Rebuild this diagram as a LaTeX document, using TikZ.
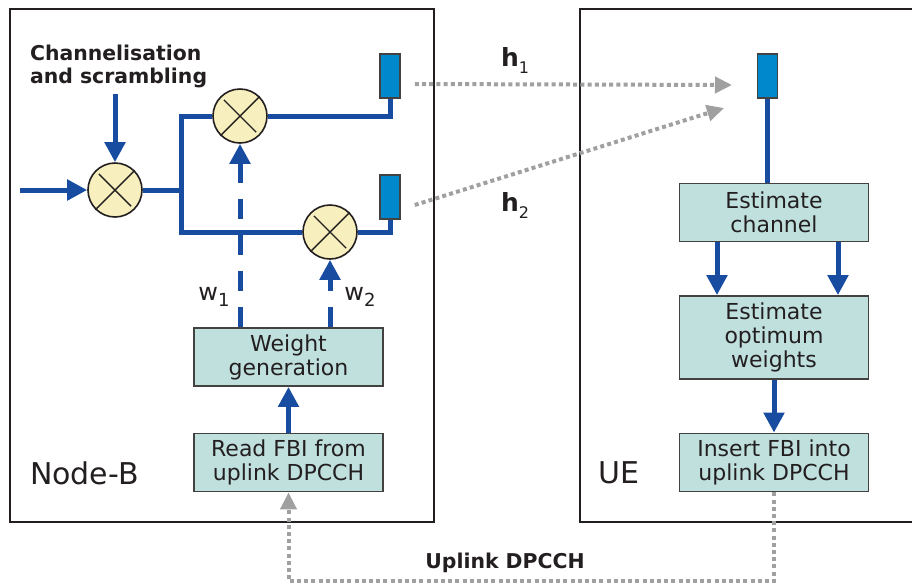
\documentclass[tikz,border=0pt]{standalone}
\usepackage{fontspec}
\setmainfont{DejaVu Sans}
\usetikzlibrary{arrows.meta, positioning, calc}
\definecolor{LinkBlue}{RGB}{24,76,160}
\definecolor{AntennaBlue}{RGB}{0,136,204}
\definecolor{MixerYellow}{RGB}{247,240,190}
\definecolor{BlockTeal}{RGB}{192,224,222}
\definecolor{RadioGrey}{RGB}{160,160,160}
\definecolor{InkGrey}{RGB}{35,31,32}

\begin{document}
\begin{tikzpicture}[
    x=0.5pt, y=-0.5pt,
    text=InkGrey,
    block/.style={draw=InkGrey!85, line width=0.9pt, fill=BlockTeal, minimum width=94.5pt,
        minimum height=29pt, inner sep=1pt, align=center, font=\fontsize{11}{12}\selectfont},
    mixer/.style={circle, draw=InkGrey, line width=0.8pt, fill=MixerYellow, minimum size=27pt, inner sep=0pt},
    antenna/.style={draw=InkGrey!85, line width=0.8pt, fill=AntennaBlue, minimum width=10pt,
        minimum height=22pt, inner sep=0pt},
    link/.style={LinkBlue, line width=2.5pt},
    flow/.style={link, -{Triangle[length=10pt, width=10pt]}},
    weight/.style={flow, dash pattern=on 10pt off 8pt},
    radio/.style={RadioGrey, line width=2pt, dash pattern=on 2pt off 1.6pt,
        -{Triangle[length=8.5pt, width=8pt]}},
    heading/.style={font=\fontsize{10.2}{11.5}\selectfont\bfseries, align=left},
    side/.style={font=\fontsize{15}{15}\selectfont, anchor=west},
    wlabel/.style={font=\fontsize{12}{12}\selectfont},
]
\useasboundingbox (0,0) rectangle (912,586);

% ---- Node-B ----
\draw[InkGrey, line width=0.8pt] (10,9) rectangle (434,522);
\node[side] (nodeb) at (23,473) {Node-B};
\node[heading, anchor=west] (chlbl) at (23,66) {Channelisation\\and scrambling};
\node[mixer] (mixA) at (115,190) {};
\node[mixer] (mixB) at (240,116) {};
\node[mixer] (mixC) at (330,232) {};
\node[antenna] (antA) at (390,76) {};
\node[antenna] (antB) at (390,197) {};
\node[block] (wgen) at (288.5,357) {Weight\\generation};
\node[block] (readfbi) at (288.5,462.5) {Read FBI from\\uplink DPCCH};
\foreach \m in {mixA,mixB,mixC}
    \draw[InkGrey, line width=0.7pt, shorten <=2.5pt, shorten >=2.5pt]
        (\m.45) -- (\m.225) (\m.135) -- (\m.-45);

\coordinate (src) at (20,190);
\coordinate (chin) at (115,94);
\coordinate (split) at (181,190);
\draw[flow] (src) -- (mixA);
\draw[flow] (chin) -- (mixA);
\draw[link] (mixA) -- (split);
\draw[link] (mixB) -| (split) |- (mixC);
\draw[link] (mixB) -| (antA);
\draw[link] (mixC) -| (antB);
\draw[weight] (wgen.north -| mixB) -- (mixB);
\draw[weight] (wgen.north -| mixC) -- (mixC);
\draw[flow] (readfbi) -- (wgen);
\node[wlabel] (w1) at (214,297) {w\raisebox{-3pt}{\fontsize{9}{9}\selectfont 1}};
\node[wlabel] (w2) at (360,297) {w\raisebox{-3pt}{\fontsize{9}{9}\selectfont 2}};

% ---- UE ----
\draw[InkGrey, line width=0.8pt] (912,9) -- (580,9) -- (580,522) -- (912,522);
\node[side] (ue) at (591,473) {UE};
\node[antenna] (antUE) at (767.5,76) {};
\node[block] (estch) at (774,212.5) {Estimate\\channel};
\node[block, minimum height=41.5pt] (estw) at (774,337.5) {Estimate\\optimum\\weights};
\node[block] (insfbi) at (774,462.5) {Insert FBI into\\uplink DPCCH};
\draw[link] (antUE) -- (antUE |- estch.north);
\draw[flow] ([xshift=-28.5pt]estch.south) -- ([xshift=-28.5pt]estw.north);
\draw[flow] ([xshift=32pt]estch.south) -- ([xshift=32pt]estw.north);
\draw[flow] (estw) -- (insfbi);

% ---- radio channel and feedback ----
\coordinate (h1end) at (732,85);
\coordinate (h2end) at (724,108);
\coordinate (fb) at (530,581);
\draw[radio] ([xshift=7pt, yshift=-4pt]antA.east) -- (h1end);
\draw[radio] ([xshift=7pt, yshift=-4pt]antB.east) -- (h2end);
\node[font=\fontsize{12.5}{13}\selectfont] (h1) at (515,60)
    {\textbf{h}\raisebox{-3.5pt}{\fontsize{8}{8}\selectfont 1}};
\node[font=\fontsize{12.5}{13}\selectfont] (h2) at (515,205)
    {\textbf{h}\raisebox{-3.5pt}{\fontsize{8}{8}\selectfont 2}};
\draw[radio] (insfbi) |- (fb) -| (readfbi);
\node[heading] (uplink) at (505,563) {Uplink DPCCH};

\end{tikzpicture}
\end{document}
